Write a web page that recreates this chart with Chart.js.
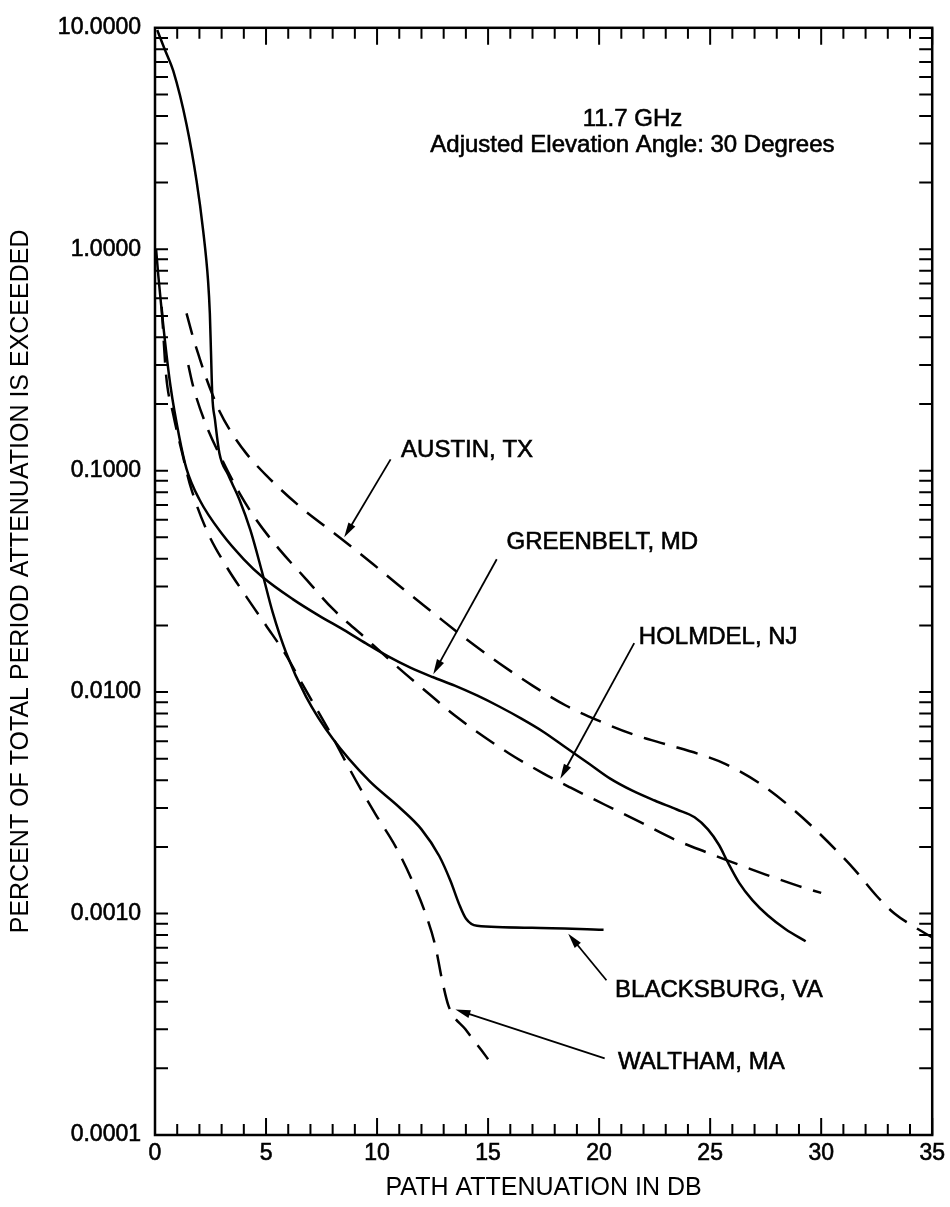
<!DOCTYPE html>
<html lang="en">
<head>
<meta charset="UTF-8">
<title>Path attenuation at 11.7 GHz</title>
<script src="https://cdn.jsdelivr.net/npm/chart.js"></script>
<style>
    html, body {
        margin: 0;
        padding: 0;
        background: #fff;
    }
    canvas {
        display: block;
    }
</style>
</head>
<body>
<canvas id="attnChart" width="950" height="1207"></canvas>
<script>
    // tick labels
    const xTickValues = [0, 5, 10, 15, 20, 25, 30, 35];
    const yTickValues = [10, 1, 0.1, 0.01, 0.001, 0.0001];

    // series values (path attenuation in dB, percent of time exceeded)
    const austinDb  = [1.42, 1.72, 2.0, 2.3, 2.6, 2.9, 3.4, 4.1, 5.0, 6.5, 8.3, 9.8, 11.0, 12.5, 14.0, 15.5, 17.0, 18.5, 20.0, 21.5, 23.0, 24.5, 25.7, 27.2, 28.8, 30.3, 31.5, 32.5, 33.3, 34.2, 35.0];
    const austinPct = [0.513, 0.398, 0.324, 0.263, 0.219, 0.186, 0.151, 0.120, 0.0955, 0.0692, 0.0501, 0.038, 0.0302, 0.0229, 0.0174, 0.0135, 0.0107, 0.0087, 0.00741, 0.00646, 0.00582, 0.00525, 0.00473, 0.00389, 0.00292, 0.00211, 0.00158, 0.0012, 0.001, 0.00087, 0.00078];

    const greenbeltDb  = [0.05, 0.15, 0.4, 0.7, 1.1, 1.42, 2.0, 3.05, 4.0, 4.84, 6.2, 7.4, 8.5, 9.5, 10.5, 11.5, 12.5, 13.5, 14.5, 15.5, 16.5, 17.5, 18.5, 19.5, 20.5, 21.5, 22.5, 23.5, 24.3, 24.9, 25.4, 25.8, 26.3, 26.9, 27.6, 28.4, 29.3];
    const greenbeltPct = [1.0, 0.759, 0.427, 0.24, 0.141, 0.102, 0.0741, 0.0513, 0.0398, 0.0331, 0.0263, 0.0221, 0.0191, 0.0166, 0.0145, 0.0129, 0.0117, 0.0107, 0.00966, 0.00861, 0.00759, 0.00661, 0.00562, 0.00479, 0.00407, 0.00359, 0.00324, 0.00295, 0.00272, 0.0024, 0.00204, 0.0017, 0.00138, 0.00115, 0.00098, 0.00085, 0.00075];

    const holmdelDb  = [1.5, 1.72, 2.32, 3.06, 3.81, 4.56, 5.61, 6.8, 8.0, 9.49, 10.99, 12.4, 13.46, 15.93, 17.48, 18.72, 20.26, 21.81, 23.36, 24.9, 25.83, 27.5, 29.0, 30.0];
    const holmdelPct = [0.30, 0.24, 0.159, 0.11, 0.079, 0.060, 0.044, 0.0324, 0.0238, 0.0175, 0.0128, 0.0097, 0.0079, 0.0053, 0.0043, 0.0037, 0.0031, 0.0026, 0.00217, 0.00188, 0.00173, 0.0015, 0.00133, 0.00124];

    const blacksburgDb  = [0.1, 0.45, 0.82, 1.42, 1.87, 2.17, 2.39, 2.47, 2.52, 2.58, 2.7, 2.9, 3.3, 3.8, 4.3, 4.8, 5.3, 5.9, 6.8, 8.0, 9.64, 11.0, 12.0, 12.8, 13.3, 13.7, 14.0, 14.5, 16.97, 20.2];
    const blacksburgPct = [9.77, 7.94, 6.4, 3.66, 2.04, 1.21, 0.72, 0.513, 0.347, 0.219, 0.17, 0.12, 0.0955, 0.0741, 0.0537, 0.0355, 0.0229, 0.0151, 0.00955, 0.00617, 0.00398, 0.00302, 0.0024, 0.00182, 0.00141, 0.0011, 0.00095, 0.00088, 0.000863, 0.000845];

    const walthamDb  = [0.3, 0.5, 0.82, 1.27, 1.57, 2.32, 3.21, 4.11, 5.0, 5.9, 6.65, 7.8, 9.04, 9.94, 10.84, 11.58, 12.18, 12.63, 12.93, 13.23, 13.98, 14.72, 15.0];
    const walthamPct = [0.55, 0.27, 0.18, 0.115, 0.087, 0.054, 0.037, 0.027, 0.020, 0.0147, 0.0108, 0.0068, 0.004, 0.0028, 0.002, 0.00141, 0.001, 0.00071, 0.0005, 0.00038, 0.0003, 0.00024, 0.00022];

    // labels with their arrows, in data units
    const siteNotes = [
        { text: "AUSTIN, TX",     at: [11.08, 0.124],    from: [10.61, 0.1125],  to: [8.52, 0.050] },
        { text: "GREENBELT, MD",  at: [15.83, 0.0474],   from: [15.39, 0.0398],  to: [12.53, 0.01205] },
        { text: "HOLMDEL, NJ",    at: [21.79, 0.0176],   from: [21.58, 0.01664], to: [18.25, 0.00406] },
        { text: "BLACKSBURG, VA", at: [20.72, 0.000451], from: [20.33, 0.0005],  to: [18.61, 0.00081] },
        { text: "WALTHAM, MA",    at: [20.85, 0.000212], from: [20.25, 0.000222], to: [13.53, 0.000369] }
    ];
    const headerLines = ["11.7 GHz", "Adjusted Elevation Angle: 30 Degrees"];

    const FONT = "'Liberation Sans', Arial, Helvetica, sans-serif";

    function series(label, xs, ys, dashed) {
        return {
            label: label,
            data: xs.map((x, i) => ({ x: x, y: ys[i] })),
            borderColor: "#000",
            borderWidth: 2.5,
            borderDash: dashed ? [22, 12] : [],
            pointRadius: 0,
            fill: false,
            cubicInterpolationMode: "monotone"
        };
    }

    function boldText(ctx, text, x, y) {
        ctx.fillText(text, x, y);
        ctx.strokeText(text, x, y);
    }

    // frame, inward ticks, header text and site labels
    const decorations = {
        id: "decorations",
        afterDraw(chart) {
            const { ctx, chartArea: a } = chart;
            const xs = chart.scales.x, ys = chart.scales.y;
            ctx.save();
            ctx.strokeStyle = "#000";
            ctx.fillStyle = "#000";
            ctx.lineWidth = 2.5;
            ctx.strokeRect(a.left, a.top, a.right - a.left, a.bottom - a.top);

            ctx.lineWidth = 2;
            ctx.beginPath();
            for (let v = 0; v <= 35; v++) {
                const px = xs.getPixelForValue(v);
                const len = v % 5 === 0 ? 17 : 11;
                ctx.moveTo(px, a.bottom); ctx.lineTo(px, a.bottom - len);
                ctx.moveTo(px, a.top);    ctx.lineTo(px, a.top + len);
            }
            for (let d = -4; d <= 0; d++) {
                for (let m = 1; m <= 9; m++) {
                    const py = ys.getPixelForValue(m * Math.pow(10, d));
                    ctx.moveTo(a.left, py);  ctx.lineTo(a.left + 13, py);
                    ctx.moveTo(a.right, py); ctx.lineTo(a.right - 13, py);
                }
            }
            ctx.stroke();

            // header
            ctx.font = "24px " + FONT;
            ctx.lineWidth = 0.6;
            ctx.textAlign = "center";
            ctx.textBaseline = "middle";
            const hx = xs.getPixelForValue(21.5);
            boldText(ctx, headerLines[0], hx, a.top + 92);
            boldText(ctx, headerLines[1], hx, a.top + 118);

            // site labels + arrows
            ctx.textAlign = "left";
            siteNotes.forEach(n => {
                ctx.lineWidth = 0.6;
                boldText(ctx, n.text, xs.getPixelForValue(n.at[0]), ys.getPixelForValue(n.at[1]));
                const x1 = xs.getPixelForValue(n.from[0]), y1 = ys.getPixelForValue(n.from[1]);
                const x2 = xs.getPixelForValue(n.to[0]),   y2 = ys.getPixelForValue(n.to[1]);
                const ang = Math.atan2(y2 - y1, x2 - x1);
                ctx.lineWidth = 1.8;
                ctx.beginPath();
                ctx.moveTo(x1, y1);
                ctx.lineTo(x2 - 10 * Math.cos(ang), y2 - 10 * Math.sin(ang));
                ctx.stroke();
                ctx.beginPath();
                ctx.moveTo(x2, y2);
                ctx.lineTo(x2 - 15 * Math.cos(ang) + 4 * Math.sin(ang), y2 - 15 * Math.sin(ang) - 4 * Math.cos(ang));
                ctx.lineTo(x2 - 15 * Math.cos(ang) - 4 * Math.sin(ang), y2 - 15 * Math.sin(ang) + 4 * Math.cos(ang));
                ctx.closePath();
                ctx.fill();
            });
            ctx.restore();
        }
    };

    new Chart(document.getElementById("attnChart").getContext("2d"), {
        type: "line",
        data: {
            datasets: [
                series("AUSTIN, TX", austinDb, austinPct, true),
                series("GREENBELT, MD", greenbeltDb, greenbeltPct, false),
                series("HOLMDEL, NJ", holmdelDb, holmdelPct, true),
                series("BLACKSBURG, VA", blacksburgDb, blacksburgPct, false),
                series("WALTHAM, MA", walthamDb, walthamPct, true)
            ]
        },
        options: {
            responsive: false,
            animation: false,
            devicePixelRatio: 1,
            layout: { padding: { left: 6, right: 15, top: 23, bottom: 4 } },
            plugins: {
                legend: { display: false },
                tooltip: { enabled: false }
            },
            scales: {
                x: {
                    type: "linear",
                    min: 0,
                    max: 35,
                    afterBuildTicks: s => { s.ticks = xTickValues.map(v => ({ value: v })); },
                    afterFit: s => { s.height = 1207 - 1135 - 4; },
                    ticks: { color: "#000", font: { family: FONT, size: 23 }, padding: 5, maxRotation: 0,
                             textStrokeColor: "#000", textStrokeWidth: 0.6 },
                    grid: { display: false, drawTicks: false },
                    border: { display: false },
                    title: { display: true, text: "PATH ATTENUATION IN DB", color: "#000",
                             font: { family: FONT, size: 25 }, padding: { top: 0, bottom: 0 } }
                },
                y: {
                    type: "logarithmic",
                    min: 0.0001,
                    max: 10,
                    afterBuildTicks: s => { s.ticks = yTickValues.map(v => ({ value: v })); },
                    afterFit: s => { s.width = 155 - 6; },
                    ticks: { color: "#000", font: { family: FONT, size: 23 }, padding: 14,
                             textStrokeColor: "#000", textStrokeWidth: 0.6,
                             callback: v => Number(v).toFixed(4) },
                    grid: { display: false, drawTicks: false },
                    border: { display: false },
                    title: { display: true, text: "PERCENT OF TOTAL PERIOD ATTENUATION IS EXCEEDED", color: "#000",
                             font: { family: FONT, size: 25 }, padding: { top: 0, bottom: 0 } }
                }
            }
        },
        plugins: [decorations]
    });
</script>
</body>
</html>
